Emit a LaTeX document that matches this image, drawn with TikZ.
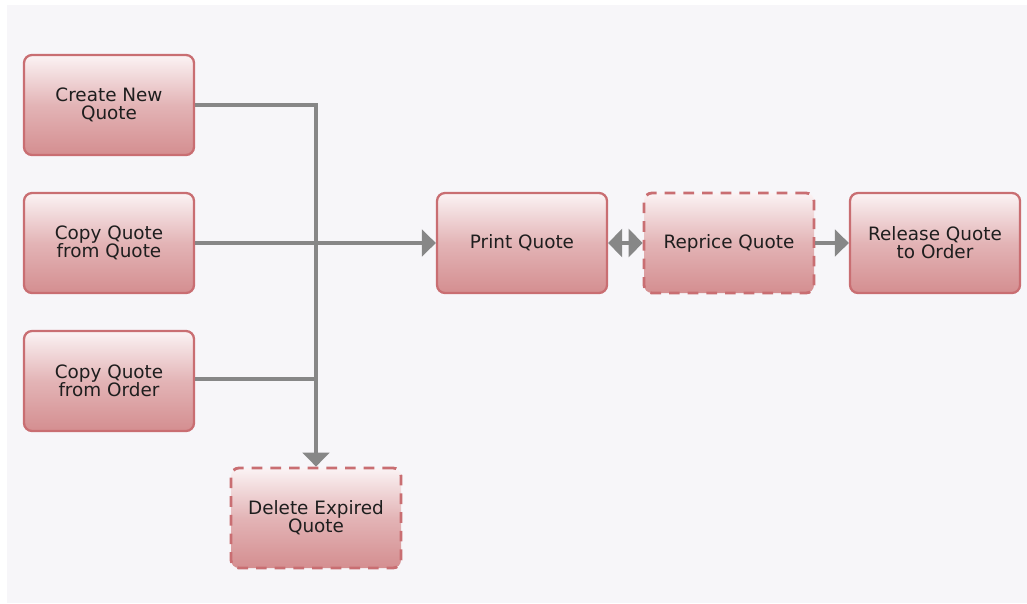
\documentclass[tikz,border=0pt]{standalone}
\usepackage{fontspec}
\setmainfont{DejaVu Sans}
\usetikzlibrary{arrows.meta}
\definecolor{panel}{HTML}{F7F6F9}
\definecolor{edge}{HTML}{C96E72}
\definecolor{filltop}{HTML}{FBF3F4}
\definecolor{fillmid}{HTML}{E3B4B6}
\definecolor{fillbot}{HTML}{D48E90}
\definecolor{wire}{HTML}{878787}
\definecolor{ink}{HTML}{1E1E1E}
\tikzset{
  task/.style={rounded corners=6pt, minimum width=127.5pt, minimum height=75pt,
    top color=filltop, bottom color=fillbot, middle color=fillmid,
    draw=edge, line width=1.7pt,
    align=center, text=ink, font=\fontsize{13.8}{13.5}\selectfont},
  optional/.style={task, dash pattern=on 8pt off 6pt, line width=2.1pt},
  flow/.style={draw=wire, line width=2.3pt,
    -{Triangle[length=10.5pt,width=20pt]}},
  plain/.style={draw=wire, line width=2.3pt},
}
\begin{document}
\begin{tikzpicture}[x=0.75pt, y=-0.75pt]
  % page and panel
  \fill[white] (0,0) rectangle (1027,603);
  \fill[panel] (7,5) rectangle (1027,603);
  \useasboundingbox (0,0) rectangle (1027,603);

  % tasks
  \node[task] (create) at (109,105) {Create New\\Quote};
  \node[task] (copyq) at (109,243) {Copy Quote\\from Quote};
  \node[task] (copyo) at (109,381) {Copy Quote\\from Order};
  \node[task] (print) at (522,243) {Print Quote};
  \node[optional] (reprice) at (729,243) {Reprice Quote};
  \node[task] (release) at (935,243) {Release Quote\\to Order};
  \node[optional] (delete) at (316,518) {Delete Expired\\Quote};

  % junctions on the shared trunk
  \coordinate (top) at (316,105);
  \coordinate (low) at (316,379);

  % connectors
  \draw[flow] (create.east |- top) -- (top) -- (delete.north);
  \draw[plain] (copyo.east |- low) -- (low);
  \draw[flow] (copyq.east) -- (print.west);
  \draw[draw=wire, line width=2.3pt,
    {Triangle[length=10.5pt,width=21pt]}-{Triangle[length=10.5pt,width=21pt]}]
    (print.east) -- (reprice.west);
  \draw[flow] (reprice.east) -- (release.west);
\end{tikzpicture}
\end{document}
